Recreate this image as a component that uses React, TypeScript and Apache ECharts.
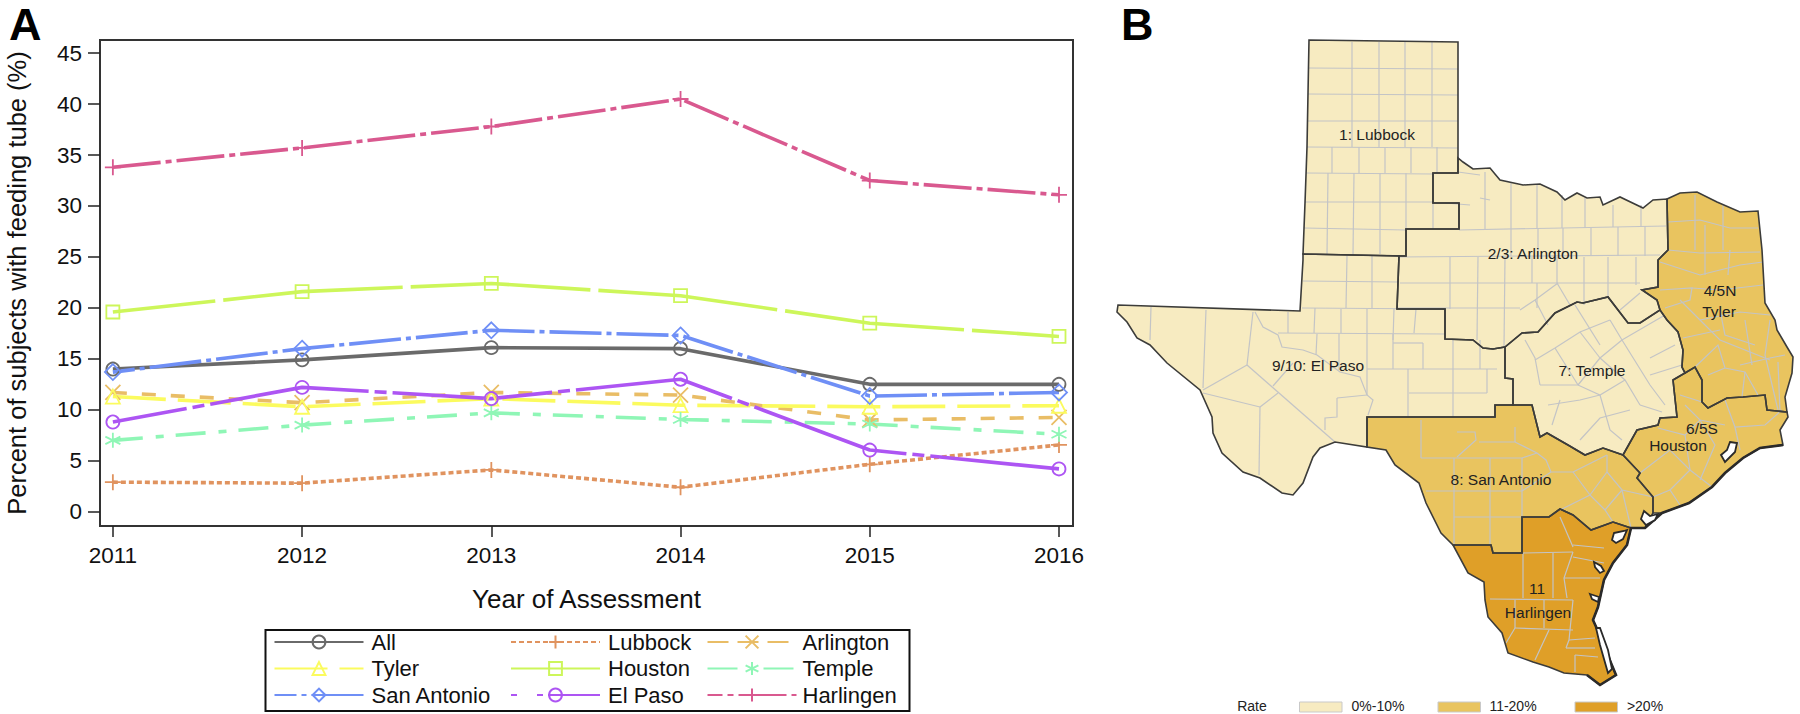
import React, { useEffect, useRef } from "react";
import * as echarts from "echarts";

const years = [2011, 2012, 2013, 2014, 2015, 2016];
const yTicks = [0, 5, 10, 15, 20, 25, 30, 35, 40, 45];
const allValues = [14.0, 14.9, 16.1, 16.0, 12.5, 12.5];
const lubbock = [2.9, 2.8, 4.1, 2.4, 4.65, 6.55];
const arlington = [11.7, 10.7, 11.7, 11.45, 9.0, 9.25];
const tyler = [11.3, 10.3, 11.1, 10.45, 10.3, 10.4];
const houston = [19.6, 21.6, 22.4, 21.2, 18.5, 17.2];
const temple = [7.0, 8.5, 9.7, 9.05, 8.6, 7.6];
const sanAntonio = [13.7, 16.0, 17.8, 17.3, 11.35, 11.7];
const elPaso = [8.8, 12.2, 11.1, 13.0, 6.05, 4.2];
const harlingen = [33.8, 35.7, 37.8, 40.5, 32.5, 31.1];

const PLUS = "path://M5 0L5 10M0 5L10 5";
const CROSS = "path://M0 0L10 10M10 0L0 10";
const STAR = "path://M5 0L5 10M0.7 2.5L9.3 7.5M0.7 7.5L9.3 2.5";

const seriesDefs: any[] = [
  { name: "All", data: allValues, color: "#6a6a6a", dash: "solid", symbol: "circle", size: 13 },
  { name: "Lubbock", data: lubbock, color: "#e0935f", dash: [5, 3], symbol: PLUS, size: 16 },
  { name: "Arlington", data: arlington, color: "#e9bd66", dash: [14, 15], legendDash: [21, 9], symbol: CROSS, size: 15 },
  { name: "Tyler", data: tyler, color: "#fbfb5e", dash: [53, 12], symbol: "triangle", size: 14 },
  { name: "Houston", data: houston, color: "#cdf65a", dash: [180, 8], offset: 77, legendDash: [200, 0], symbol: "rect", size: 13 },
  { name: "Temple", data: temple, color: "#8ff6b6", dash: [30, 13, 8, 12], legendDash: [30, 26, 30, 26], symbol: STAR, size: 15 },
  { name: "San Antonio", data: sanAntonio, color: "#6f8ff6", dash: [52, 5, 5, 5], offset: 30, symbol: "diamond", size: 16 },
  { name: "El Paso", data: elPaso, color: "#ad55f3", dash: [160, 6, 12, 6], offset: 85, legendDash: [6, 5, 80, 20], symbol: "circle", size: 13 },
  { name: "Harlingen", data: harlingen, color: "#d9598f", dash: [48, 5, 6, 5], legendDash: [15, 5, 6, 5, 48, 5, 8, 5], symbol: PLUS, size: 16 },
];

const legendColumns = [
  ["All", "Tyler", "San Antonio"],
  ["Lubbock", "Houston", "El Paso"],
  ["Arlington", "Temple", "Harlingen"],
];

const rateBands = [
  { label: "0%-10%", color: "#f7ebc1" },
  { label: "11-20%", color: "#e9c45f" },
  { label: ">20%", color: "#df9f28" },
];

const lubbockShape = [[1309, 40], [1458, 42], [1458, 173], [1433, 173], [1433, 203], [1459, 203], [1459, 229], [1406, 229], [1406, 256], [1303, 254], [1305, 203], [1307, 147]];
const arlingtonShape = [[1458, 173], [1458, 158], [1463, 162], [1473, 169], [1490, 168], [1500, 180], [1523, 185], [1540, 184], [1557, 192], [1565, 200], [1577, 193], [1587, 198], [1600, 197], [1603, 205], [1620, 197], [1643, 208], [1653, 200], [1667, 199], [1668, 250], [1658, 260], [1658, 287], [1642, 290], [1657, 300], [1660, 310], [1640, 323], [1628, 323], [1608, 297], [1583, 303], [1577, 302], [1555, 313], [1538, 332], [1522, 333], [1505, 347], [1493, 349], [1483, 348], [1473, 340], [1445, 339], [1445, 309], [1397, 309], [1399, 256], [1406, 256], [1406, 229], [1459, 229], [1459, 203], [1433, 203], [1433, 173]];
const tylerShape = [[1667, 199], [1680, 193], [1697, 192], [1717, 202], [1740, 212], [1758, 211], [1762, 250], [1765, 303], [1775, 320], [1777, 330], [1787, 347], [1793, 357], [1792, 373], [1785, 397], [1787, 412], [1767, 410], [1765, 395], [1743, 397], [1727, 398], [1708, 408], [1702, 402], [1702, 380], [1695, 367], [1685, 373], [1682, 367], [1683, 350], [1678, 332], [1667, 320], [1660, 310], [1657, 300], [1642, 290], [1658, 287], [1658, 260], [1668, 250]];
const templeShape = [[1505, 347], [1522, 333], [1538, 332], [1555, 313], [1577, 302], [1583, 303], [1608, 297], [1628, 323], [1640, 323], [1660, 310], [1667, 320], [1678, 332], [1683, 350], [1682, 367], [1685, 373], [1673, 380], [1677, 417], [1660, 418], [1658, 425], [1637, 430], [1623, 455], [1603, 448], [1585, 455], [1568, 445], [1547, 433], [1540, 437], [1532, 405], [1513, 405], [1513, 379], [1505, 378]];
const elPasoShape = [[1303, 254], [1399, 256], [1397, 309], [1445, 309], [1445, 339], [1473, 340], [1483, 348], [1493, 349], [1505, 347], [1505, 378], [1513, 379], [1513, 405], [1495, 405], [1495, 417], [1367, 417], [1367, 447], [1335, 442], [1320, 448], [1313, 457], [1303, 483], [1293, 495], [1282, 493], [1260, 478], [1243, 472], [1222, 453], [1213, 433], [1212, 417], [1200, 390], [1167, 363], [1150, 345], [1137, 338], [1127, 322], [1117, 312], [1118, 305], [1300, 311], [1303, 260]];
const sanAntonioShape = [[1367, 417], [1495, 417], [1495, 405], [1532, 405], [1540, 437], [1547, 433], [1568, 445], [1585, 455], [1603, 448], [1623, 455], [1640, 473], [1637, 478], [1653, 497], [1653, 513], [1645, 528], [1631, 528], [1613, 522], [1591, 530], [1573, 515], [1560, 509], [1549, 517], [1522, 517], [1522, 553], [1493, 553], [1491, 545], [1453, 545], [1441, 533], [1426, 503], [1419, 483], [1395, 465], [1386, 450], [1367, 447]];
const houstonShape = [[1673, 380], [1685, 373], [1695, 367], [1702, 380], [1702, 402], [1708, 408], [1727, 398], [1743, 397], [1765, 395], [1767, 410], [1787, 412], [1788, 417], [1780, 430], [1783, 445], [1760, 448], [1743, 458], [1725, 473], [1712, 487], [1689, 503], [1662, 513], [1653, 513], [1653, 497], [1637, 478], [1640, 473], [1623, 455], [1637, 430], [1658, 425], [1660, 418], [1677, 417]];
const harlingenShape = [[1453, 545], [1491, 545], [1493, 553], [1522, 553], [1522, 517], [1549, 517], [1560, 509], [1573, 515], [1591, 530], [1613, 522], [1631, 528], [1627, 545], [1613, 563], [1604, 580], [1598, 607], [1593, 620], [1602, 640], [1611, 663], [1616, 675], [1600, 685], [1587, 675], [1564, 673], [1549, 667], [1533, 662], [1508, 653], [1502, 633], [1488, 617], [1485, 600], [1484, 582], [1468, 573]];

const regionShapes = [
  { shape: lubbockShape, band: 0 },
  { shape: arlingtonShape, band: 0 },
  { shape: templeShape, band: 0 },
  { shape: elPasoShape, band: 0 },
  { shape: tylerShape, band: 1 },
  { shape: sanAntonioShape, band: 1 },
  { shape: houstonShape, band: 1 },
  { shape: harlingenShape, band: 2 },
];

const coastLine = [[1783, 445], [1760, 448], [1743, 458], [1725, 473], [1712, 487], [1689, 503], [1662, 513], [1645, 528], [1631, 528], [1627, 545], [1613, 563], [1604, 580], [1598, 607], [1593, 620], [1602, 640], [1611, 663], [1616, 675], [1600, 685], [1587, 675]];

const bayShapes = [
  [[1730, 442], [1737, 443], [1735, 452], [1725, 462], [1721, 455], [1727, 450]],
  [[1644, 511], [1650, 516], [1658, 514], [1655, 520], [1646, 525], [1641, 519]],
  [[1614, 533], [1624, 531], [1627, 530], [1623, 539], [1616, 543], [1612, 540]],
  [[1594, 562], [1601, 566], [1604, 571], [1600, 573], [1595, 567]],
  [[1596, 628], [1600, 628], [1608, 650], [1612, 669], [1608, 673], [1600, 645]],
  [[1590, 594], [1599, 597], [1598, 602], [1592, 599]],
];

const countyLines = [
  // Lubbock
  [[1308, 68], [1458, 69]], [[1308, 94], [1458, 95]], [[1307, 121], [1458, 121]], [[1307, 147], [1458, 148]], [[1306, 173], [1433, 174]], [[1305, 202], [1433, 202]], [[1304, 228], [1406, 230]],
  [[1352, 42], [1352, 147]], [[1379, 42], [1379, 147]], [[1405, 42], [1405, 147]], [[1432, 42], [1432, 147]],
  [[1332, 147], [1332, 173]], [[1359, 147], [1359, 173]], [[1385, 147], [1385, 173]], [[1411, 147], [1411, 173]], [[1437, 147], [1437, 173]],
  [[1328, 173], [1327, 254]], [[1354, 173], [1353, 254]], [[1380, 173], [1380, 254]], [[1406, 173], [1406, 229]], [[1433, 203], [1433, 229]],
  // El Paso
  [[1303, 281], [1398, 282]], [[1347, 256], [1346, 308]], [[1372, 256], [1372, 309]], [[1302, 308], [1445, 309]], [[1278, 333], [1446, 334]],
  [[1288, 312], [1288, 333]], [[1315, 308], [1314, 333]], [[1341, 309], [1341, 333]], [[1367, 309], [1367, 333]], [[1394, 309], [1393, 340]], [[1416, 309], [1414, 333]],
  [[1317, 334], [1316, 355]], [[1339, 334], [1339, 370]], [[1367, 334], [1367, 395]], [[1393, 334], [1393, 369]], [[1393, 343], [1423, 343]], [[1423, 343], [1423, 369]],
  [[1367, 369], [1497, 369]], [[1409, 393], [1487, 393]], [[1408, 369], [1408, 417]], [[1453, 340], [1453, 417]], [[1480, 340], [1480, 369]], [[1487, 369], [1487, 393]],
  [[1255, 312], [1263, 327], [1278, 335], [1282, 347], [1303, 350], [1317, 355], [1340, 372], [1360, 377], [1367, 395], [1373, 400], [1368, 415]],
  [[1151, 307], [1150, 340]], [[1206, 310], [1203, 388]], [[1253, 312], [1247, 365]], [[1247, 365], [1203, 390]], [[1247, 365], [1335, 442]], [[1203, 393], [1260, 407]], [[1260, 407], [1278, 393]], [[1260, 407], [1259, 475]], [[1273, 386], [1293, 363]],
  [[1337, 398], [1337, 417], [1325, 418], [1325, 430]], [[1337, 398], [1367, 395]],
  // Arlington
  [[1445, 203], [1470, 205]], [[1459, 230], [1666, 226]], [[1398, 257], [1660, 255]], [[1400, 283], [1640, 283]], [[1397, 308], [1520, 308]],
  [[1458, 172], [1480, 175]], [[1480, 198], [1490, 200]],
  [[1485, 172], [1485, 229]], [[1511, 182], [1511, 229]], [[1537, 185], [1537, 229]], [[1562, 195], [1562, 228]], [[1585, 198], [1585, 228]], [[1613, 205], [1613, 227]], [[1641, 205], [1641, 226]],
  [[1511, 229], [1511, 256]], [[1538, 229], [1538, 256]], [[1563, 228], [1563, 256]], [[1591, 228], [1591, 256]], [[1618, 227], [1618, 256]], [[1645, 226], [1645, 256]],
  [[1450, 257], [1450, 309]], [[1478, 257], [1477, 340]], [[1505, 257], [1504, 347]], [[1532, 257], [1532, 283]], [[1557, 257], [1557, 283]], [[1584, 257], [1584, 305]], [[1608, 257], [1608, 296]], [[1636, 257], [1636, 285]],
  [[1537, 283], [1537, 308]], [[1557, 283], [1570, 305]], [[1520, 310], [1535, 300], [1558, 283]], [[1535, 300], [1548, 325]], [[1620, 310], [1640, 293]],
  // Temple
  [[1525, 340], [1535, 358], [1540, 385]], [[1535, 360], [1555, 348], [1580, 332], [1610, 320]], [[1555, 348], [1578, 385]], [[1575, 305], [1600, 345]], [[1580, 332], [1600, 358]], [[1610, 320], [1622, 340], [1665, 315]],
  [[1578, 385], [1600, 358], [1622, 340]], [[1540, 385], [1578, 385], [1600, 395], [1625, 380]], [[1600, 358], [1625, 380], [1640, 405]], [[1622, 340], [1650, 385], [1665, 405]], [[1650, 375], [1682, 365]],
  [[1650, 358], [1675, 345]], [[1548, 405], [1580, 400], [1600, 395]], [[1600, 395], [1610, 430], [1622, 440]], [[1560, 400], [1552, 425]], [[1630, 410], [1600, 418], [1580, 440]], [[1640, 405], [1662, 412]],
  // Tyler
  [[1668, 222], [1700, 220], [1730, 228], [1758, 228]], [[1668, 250], [1700, 253], [1760, 252]], [[1660, 262], [1700, 275], [1740, 265], [1763, 262]], [[1660, 290], [1692, 288], [1690, 300], [1665, 308]],
  [[1692, 288], [1720, 290], [1763, 285]], [[1695, 195], [1695, 250]], [[1723, 205], [1723, 250]], [[1705, 225], [1705, 275]], [[1730, 250], [1728, 275]], [[1680, 300], [1700, 320], [1720, 340], [1770, 360]],
  [[1700, 320], [1740, 312], [1770, 315]], [[1720, 310], [1725, 335], [1755, 345]], [[1745, 320], [1752, 365]], [[1770, 320], [1765, 355], [1778, 410]], [[1683, 338], [1720, 330]], [[1740, 365], [1770, 358], [1785, 355]],
  [[1695, 367], [1718, 345], [1725, 368], [1745, 372], [1758, 395]], [[1708, 375], [1725, 368]], [[1745, 372], [1742, 397]], [[1778, 362], [1780, 412]],
  // San Antonio
  [[1421, 420], [1421, 458]], [[1421, 458], [1522, 458]], [[1454, 458], [1454, 545]], [[1490, 458], [1490, 545]], [[1522, 458], [1522, 517]], [[1426, 491], [1522, 491]], [[1454, 517], [1522, 517]],
  [[1457, 432], [1475, 432], [1476, 440], [1457, 457]], [[1479, 442], [1515, 442], [1537, 453], [1546, 460], [1551, 472], [1573, 472]], [[1515, 427], [1515, 442]], [[1573, 472], [1607, 455]], [[1607, 455], [1607, 472], [1622, 490], [1653, 497]], [[1573, 472], [1590, 495], [1560, 510]],
  [[1590, 495], [1607, 472]], [[1590, 495], [1605, 510], [1613, 522]], [[1605, 510], [1622, 490]], [[1522, 491], [1551, 472]], [[1537, 453], [1522, 458]], [[1622, 490], [1631, 528]],
  // Houston
  [[1702, 402], [1680, 395]], [[1685, 405], [1700, 420], [1725, 425]], [[1658, 428], [1685, 435], [1700, 420]], [[1685, 435], [1690, 470], [1670, 490]], [[1640, 473], [1670, 450], [1690, 470]], [[1690, 470], [1712, 487]],
  [[1725, 400], [1735, 427], [1765, 425], [1782, 410]], [[1735, 427], [1740, 450]], [[1700, 420], [1715, 445], [1700, 480]], [[1653, 497], [1670, 490], [1680, 505]],
  // Harlingen
  [[1553, 553], [1553, 598]], [[1523, 553], [1573, 552]], [[1523, 553], [1523, 598]], [[1560, 517], [1573, 547]], [[1573, 545], [1604, 548]], [[1573, 557], [1604, 563]], [[1573, 552], [1564, 578], [1567, 598]], [[1564, 578], [1600, 578]],
  [[1490, 599], [1573, 600]], [[1515, 600], [1515, 628]], [[1544, 600], [1544, 628]], [[1515, 628], [1573, 630]], [[1573, 600], [1569, 640], [1566, 648]], [[1569, 640], [1595, 638]], [[1566, 648], [1595, 648]], [[1575, 655], [1598, 657]], [[1575, 655], [1575, 672]], [[1549, 630], [1535, 660]], [[1515, 628], [1506, 643]],
];

const FONT = "Liberation Sans";

function mapLabel(text: string, x: number, y: number, size = 15.5) {
  return {
    type: "text",
    silent: true,
    z: 30,
    style: { text, x, y, fill: "#222", font: `${size}px "${FONT}"`, textAlign: "center", textVerticalAlign: "middle" },
  };
}

function buildGraphic() {
  const g: any[] = [];
  for (const r of regionShapes) {
    g.push({ type: "polygon", silent: true, z: 10, shape: { points: r.shape }, style: { fill: rateBands[r.band].color, stroke: "none" } });
  }
  for (const c of countyLines) {
    g.push({ type: "polyline", silent: true, z: 11, shape: { points: c }, style: { stroke: "#c3c4c6", lineWidth: 1.2, fill: "none" } });
  }
  for (const r of regionShapes) {
    g.push({ type: "polygon", silent: true, z: 12, shape: { points: r.shape }, style: { fill: "none", stroke: "#3c3c3a", lineWidth: 1.6 } });
  }
  g.push({ type: "polyline", silent: true, z: 13, shape: { points: coastLine }, style: { stroke: "#2a2a2a", lineWidth: 2.6, fill: "none" } });
  for (const b of bayShapes) {
    g.push({ type: "polygon", silent: true, z: 14, shape: { points: b }, style: { fill: "#ffffff", stroke: "#2a2a2a", lineWidth: 1.8 } });
  }
  g.push(
    mapLabel("1: Lubbock", 1377, 134),
    mapLabel("2/3: Arlington", 1533, 253),
    mapLabel("4/5N", 1720, 290),
    mapLabel("Tyler", 1719, 311),
    mapLabel("7: Temple", 1592, 370),
    mapLabel("6/5S", 1702, 428),
    mapLabel("Houston", 1678, 445),
    mapLabel("9/10: El Paso", 1318, 365),
    mapLabel("8: San Antonio", 1501, 479),
    mapLabel("11", 1537, 588),
    mapLabel("Harlingen", 1538, 612),
    mapLabel("Rate", 1252, 706, 14),
  );
  const swatchX = [1299.5, 1438, 1575];
  const labelX = [1378, 1513, 1645];
  rateBands.forEach((b, i) => {
    g.push({ type: "rect", silent: true, z: 20, shape: { x: swatchX[i], y: 702, width: 42.5, height: 10 }, style: { fill: b.color, stroke: "#c9c9c9", lineWidth: 1 } });
    g.push(mapLabel(b.label, labelX[i], 706, 14));
  });
  g.push(
    { type: "text", silent: true, z: 30, style: { text: "A", x: 9, y: 2, fill: "#000", font: `bold 45px "${FONT}"` } },
    { type: "text", silent: true, z: 30, style: { text: "B", x: 1121, y: 2, fill: "#000", font: `bold 45px "${FONT}"` } },
    { type: "rect", silent: true, z: 5, shape: { x: 265.5, y: 630, width: 644, height: 81 }, style: { fill: "none", stroke: "#111", lineWidth: 2 } },
  );
  return g;
}

function buildOption() {
  const legendLeft = [273.5, 510, 706.5];
  return {
    animation: false,
    backgroundColor: "#ffffff",
    textStyle: { fontFamily: FONT },
    grid: { left: 100, top: 40, width: 973, height: 486, show: true, borderColor: "#333", borderWidth: 2, backgroundColor: "transparent", outerBoundsMode: "none" },
    xAxis: {
      type: "value",
      min: 2010.932,
      max: 2016.074,
      name: "Year of Assessment",
      nameLocation: "center",
      nameGap: 60,
      nameTextStyle: { fontSize: 26, color: "#111", fontFamily: FONT },
      splitLine: { show: false },
      axisLine: { show: true, onZero: false, lineStyle: { color: "#333", width: 2 } },
      axisTick: { show: true, length: 11, lineStyle: { color: "#222", width: 1.5 }, customValues: years },
      axisLabel: { color: "#111", fontSize: 22.5, margin: 18, fontFamily: FONT, customValues: years, formatter: (v: number) => String(v) },
    },
    yAxis: {
      type: "value",
      min: -1.403,
      max: 46.29,
      name: "Percent of subjects with feeding tube (%)",
      nameLocation: "center",
      nameRotate: 90,
      nameGap: 70,
      nameTextStyle: { fontSize: 25.5, color: "#111", fontFamily: FONT },
      splitLine: { show: false },
      axisLine: { show: true, onZero: false, lineStyle: { color: "#333", width: 2 } },
      axisTick: { show: true, length: 12, lineStyle: { color: "#222", width: 1.5 }, customValues: yTicks },
      axisLabel: { color: "#111", fontSize: 22.5, margin: 18, fontFamily: FONT, customValues: yTicks, formatter: (v: number) => String(v) },
    },
    legend: legendColumns.map((col, i) => ({
      orient: "vertical",
      left: legendLeft[i],
      top: 629.5,
      height: 120,
      padding: 0,
      itemWidth: 89,
      itemHeight: 16,
      itemGap: 1.5,
      selectedMode: false,
      textStyle: { fontSize: 22, lineHeight: 25, color: "#111", fontFamily: FONT, padding: [0, 0, 0, i === 2 ? 1 : 3] },
      data: col.map((name) => {
        const d = seriesDefs.find((s) => s.name === name);
        return d.legendDash ? { name, lineStyle: { type: d.legendDash } } : { name };
      }),
    })),
    series: seriesDefs.map((s) => ({
      name: s.name,
      type: "line",
      data: s.data.map((v: number, i: number) => [years[i], v]),
      symbol: s.symbol,
      symbolSize: s.size,
      showAllSymbol: true,
      clip: false,
      lineStyle: { color: s.color, width: 3.6, type: s.dash, dashOffset: s.offset || 0 },
      itemStyle: { color: "rgba(255,255,255,0)", borderColor: s.color, borderWidth: 1.8 },
      emphasis: { disabled: true },
    })),
    graphic: buildGraphic(),
  };
}

export default function App() {
  const ref = useRef<HTMLDivElement>(null);
  useEffect(() => {
    document.body.style.margin = "0";
    const chart = echarts.init(ref.current!, undefined, { renderer: "svg" });
    chart.setOption(buildOption() as any);
    return () => chart.dispose();
  }, []);
  return <div ref={ref} style={{ position: "fixed", left: 0, top: 0, width: 1800, height: 714, background: "#fff" }} />;
}
